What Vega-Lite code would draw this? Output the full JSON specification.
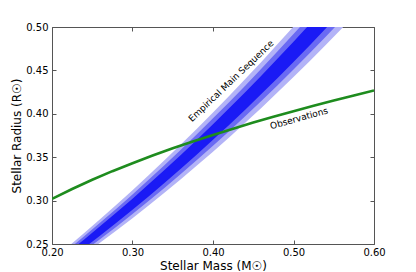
{
  "$schema": "https://vega.github.io/schema/vega-lite/v6.json",
  "width": 322,
  "height": 217,
  "autosize": "none",
  "padding": {"left": 52, "top": 27, "right": 42, "bottom": 28},
  "background": "white",
  "config": {
    "font": "DejaVu Sans",
    "view": {"stroke": "#555555", "strokeWidth": 1},
    "axis": {"grid": false, "domain": false, "labelFlush": false, "labelOverlap": false, "labelFont": "DejaVu Sans", "titleFont": "DejaVu Sans", "labelColor": "#000000", "titleColor": "#000000", "tickColor": "#555555", "titleFontWeight": "normal"}
  },
  "datasets": {
    "band": [
      {"M": 0.20, "lo3": 0.2124, "hi3": 0.2316, "lo2": 0.2153, "hi2": 0.2287, "lo1": 0.2182, "hi1": 0.2258},
      {"M": 0.22, "lo3": 0.2251, "hi3": 0.2469, "lo2": 0.2284, "hi2": 0.2436, "lo1": 0.2316, "hi1": 0.2404},
      {"M": 0.24, "lo3": 0.2382, "hi3": 0.2626, "lo2": 0.2419, "hi2": 0.2589, "lo1": 0.2455, "hi1": 0.2553},
      {"M": 0.26, "lo3": 0.2517, "hi3": 0.2787, "lo2": 0.2558, "hi2": 0.2747, "lo1": 0.2598, "hi1": 0.2706},
      {"M": 0.28, "lo3": 0.2655, "hi3": 0.2951, "lo2": 0.2699, "hi2": 0.2907, "lo1": 0.2744, "hi1": 0.2862},
      {"M": 0.30, "lo3": 0.2797, "hi3": 0.3119, "lo2": 0.2845, "hi2": 0.3071, "lo1": 0.2894, "hi1": 0.3022},
      {"M": 0.32, "lo3": 0.2943, "hi3": 0.3291, "lo2": 0.2995, "hi2": 0.3239, "lo1": 0.3047, "hi1": 0.3187},
      {"M": 0.34, "lo3": 0.3093, "hi3": 0.3467, "lo2": 0.3149, "hi2": 0.3411, "lo1": 0.3205, "hi1": 0.3355},
      {"M": 0.36, "lo3": 0.3246, "hi3": 0.3646, "lo2": 0.3306, "hi2": 0.3586, "lo1": 0.3366, "hi1": 0.3526},
      {"M": 0.38, "lo3": 0.3403, "hi3": 0.3829, "lo2": 0.3467, "hi2": 0.3765, "lo1": 0.3531, "hi1": 0.3701},
      {"M": 0.40, "lo3": 0.3564, "hi3": 0.4016, "lo2": 0.3632, "hi2": 0.3948, "lo1": 0.3700, "hi1": 0.3880},
      {"M": 0.42, "lo3": 0.3728, "hi3": 0.4206, "lo2": 0.3800, "hi2": 0.4134, "lo1": 0.3871, "hi1": 0.4063},
      {"M": 0.44, "lo3": 0.3896, "hi3": 0.4400, "lo2": 0.3972, "hi2": 0.4324, "lo1": 0.4047, "hi1": 0.4249},
      {"M": 0.46, "lo3": 0.4068, "hi3": 0.4598, "lo2": 0.4148, "hi2": 0.4519, "lo1": 0.4227, "hi1": 0.4439},
      {"M": 0.48, "lo3": 0.4244, "hi3": 0.4800, "lo2": 0.4327, "hi2": 0.4717, "lo1": 0.4411, "hi1": 0.4633},
      {"M": 0.50, "lo3": 0.4423, "hi3": 0.5005, "lo2": 0.4510, "hi2": 0.4918, "lo1": 0.4598, "hi1": 0.4830},
      {"M": 0.52, "lo3": 0.4606, "hi3": 0.5214, "lo2": 0.4697, "hi2": 0.5123, "lo1": 0.4788, "hi1": 0.5032},
      {"M": 0.54, "lo3": 0.4793, "hi3": 0.5427, "lo2": 0.4888, "hi2": 0.5332, "lo1": 0.4983, "hi1": 0.5237},
      {"M": 0.56, "lo3": 0.4983, "hi3": 0.5643, "lo2": 0.5082, "hi2": 0.5544, "lo1": 0.5181, "hi1": 0.5445},
      {"M": 0.58, "lo3": 0.5178, "hi3": 0.5864, "lo2": 0.5281, "hi2": 0.5761, "lo1": 0.5384, "hi1": 0.5658}
    ],
    "obs": [
      {"M": 0.200, "R": 0.3020}, {"M": 0.225, "R": 0.3134}, {"M": 0.250, "R": 0.3240},
      {"M": 0.275, "R": 0.3339}, {"M": 0.300, "R": 0.3431}, {"M": 0.325, "R": 0.3519},
      {"M": 0.350, "R": 0.3602}, {"M": 0.375, "R": 0.3681}, {"M": 0.400, "R": 0.3757},
      {"M": 0.425, "R": 0.3829}, {"M": 0.450, "R": 0.3899}, {"M": 0.475, "R": 0.3966},
      {"M": 0.500, "R": 0.4030}, {"M": 0.525, "R": 0.4093}, {"M": 0.550, "R": 0.4153},
      {"M": 0.575, "R": 0.4212}, {"M": 0.600, "R": 0.4269}
    ]
  },
  "layer": [
    {
      "data": {"name": "band"},
      "mark": {"type": "area", "color": "#b3b3f7", "clip": true},
      "encoding": {
        "x": {"field": "M", "type": "quantitative", "scale": {"domain": [0.2, 0.6], "nice": false, "zero": false},
          "axis": {"orient": "bottom", "values": [0.2, 0.3, 0.4, 0.5, 0.6], "format": ".2f", "tickSize": -4, "labelFontSize": 10, "labelPadding": 7, "title": "Stellar Mass (M☉)", "titleFontSize": 12, "titlePadding": 3}},
        "y": {"field": "lo3", "type": "quantitative", "scale": {"domain": [0.25, 0.5], "nice": false, "zero": false},
          "axis": {"orient": "left", "values": [0.25, 0.3, 0.35, 0.4, 0.45, 0.5], "format": ".2f", "tickSize": -4, "labelFontSize": 10, "labelPadding": 8, "title": "Stellar Radius (R☉)", "titleFontSize": 12, "titlePadding": 2}},
        "y2": {"field": "hi3"}
      }
    },
    {
      "data": {"name": "band"},
      "mark": {"type": "area", "color": "#6a6af3", "clip": true},
      "encoding": {
        "x": {"field": "M", "type": "quantitative", "axis": null},
        "y": {"field": "lo2", "type": "quantitative", "axis": null},
        "y2": {"field": "hi2"}
      }
    },
    {
      "data": {"name": "band"},
      "mark": {"type": "area", "color": "#1a1af5", "clip": true},
      "encoding": {
        "x": {"field": "M", "type": "quantitative", "axis": null},
        "y": {"field": "lo1", "type": "quantitative", "axis": null},
        "y2": {"field": "hi1"}
      }
    },
    {
      "data": {"name": "obs"},
      "mark": {"type": "line", "color": "#1e8c1e", "strokeWidth": 2.6, "clip": true},
      "encoding": {
        "x": {"field": "M", "type": "quantitative",
          "axis": {"orient": "top", "values": [0.2, 0.3, 0.4, 0.5, 0.6], "labels": false, "tickSize": -4, "title": null}},
        "y": {"field": "R", "type": "quantitative",
          "axis": {"orient": "right", "values": [0.25, 0.3, 0.35, 0.4, 0.45, 0.5], "labels": false, "tickSize": -4, "title": null}}
      }
    },
    {
      "data": {"values": [{"M": 0.4224, "R": 0.4378, "label": "Empirical Main Sequence"}]},
      "mark": {"type": "text", "angle": -43.6, "fontSize": 9, "font": "DejaVu Sans", "color": "#000000", "align": "center", "baseline": "middle"},
      "encoding": {
        "x": {"field": "M", "type": "quantitative", "axis": null},
        "y": {"field": "R", "type": "quantitative", "axis": null},
        "text": {"field": "label"}
      }
    },
    {
      "data": {"values": [{"M": 0.5068, "R": 0.3948, "label": "Observations"}]},
      "mark": {"type": "text", "angle": -15.5, "fontSize": 9, "font": "DejaVu Sans", "color": "#000000", "align": "center", "baseline": "middle"},
      "encoding": {
        "x": {"field": "M", "type": "quantitative", "axis": null},
        "y": {"field": "R", "type": "quantitative", "axis": null},
        "text": {"field": "label"}
      }
    }
  ],
  "resolve": {"axis": {"x": "independent", "y": "independent"}}
}
